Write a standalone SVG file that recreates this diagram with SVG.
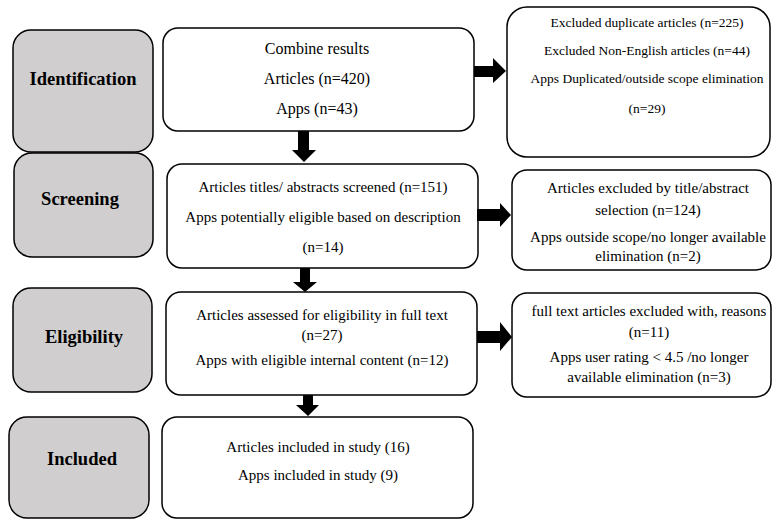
<svg xmlns="http://www.w3.org/2000/svg" width="774" height="520" viewBox="0 0 774 520">
<style>
.stage{fill:#d0cece;stroke:#000;stroke-width:1.5}
.box{fill:#fff;stroke:#000;stroke-width:1.5}
.lbl{font-family:"Liberation Serif","Times New Roman",serif;font-weight:bold;font-size:18.5px;text-anchor:middle;fill:#000}
.t{font-family:"Liberation Serif","Times New Roman",serif;font-size:15px;text-anchor:middle;fill:#000}
.t16{font-size:16px}
.t13{font-size:13.5px}
.arr{fill:#000}
</style>
<rect width="774" height="520" fill="#fff"/>
<g id="identification">
<rect class="stage" x="13" y="30" width="140" height="122" rx="18"/>
<text class="lbl" x="83" y="85">Identification</text>
</g>
<g id="screening">
<rect class="stage" x="14" y="153" width="139" height="104" rx="18"/>
<text class="lbl" x="80" y="205">Screening</text>
</g>
<g id="eligibility">
<rect class="stage" x="13" y="288" width="139" height="104" rx="18"/>
<text class="lbl" x="84" y="343">Eligibility</text>
</g>
<g id="included">
<rect class="stage" x="9" y="417" width="140" height="101" rx="18"/>
<text class="lbl" x="82" y="465">Included</text>
</g>
<g id="combine">
<rect class="box" x="163" y="28" width="311" height="103" rx="15"/>
<text class="t t16" x="317" y="54">Combine results</text>
<text class="t t16" x="317" y="84">Articles (n=420)</text>
<text class="t t16" x="317" y="114">Apps (n=43)</text>
</g>
<g id="screened">
<rect class="box" x="167" y="164" width="311" height="104" rx="15"/>
<text class="t" x="323" y="192">Articles titles/ abstracts screened (n=151)</text>
<text class="t" x="323" y="222">Apps potentially eligible based on description</text>
<text class="t" x="323" y="252">(n=14)</text>
</g>
<g id="assessed">
<rect class="box" x="166" y="292" width="311" height="103" rx="15"/>
<text class="t" x="322" y="320">Articles assessed for eligibility in full text</text>
<text class="t" x="322" y="340">(n=27)</text>
<text class="t" x="322" y="365">Apps with eligible internal content (n=12)</text>
</g>
<g id="study">
<rect class="box" x="162" y="417" width="311" height="101" rx="15"/>
<text class="t" x="318" y="452">Articles included in study (16)</text>
<text class="t" x="318" y="480">Apps included in study (9)</text>
</g>
<g id="excluded1">
<rect class="box" x="507" y="7" width="263" height="150" rx="20"/>
<text class="t t13" x="647" y="27">Excluded duplicate articles (n=225)</text>
<text class="t t13" x="647" y="55">Excluded Non-English articles (n=44)</text>
<text class="t t13" x="647" y="83">Apps Duplicated/outside scope elimination</text>
<text class="t t13" x="647" y="113">(n=29)</text>
</g>
<g id="excluded2">
<rect class="box" x="512" y="170" width="259" height="100" rx="15"/>
<text class="t" x="648" y="193">Articles excluded by title/abstract</text>
<text class="t" x="648" y="215">selection (n=124)</text>
<text class="t" x="648" y="242">Apps outside scope/no longer available</text>
<text class="t" x="648" y="261">elimination (n=2)</text>
</g>
<g id="excluded3">
<rect class="box" x="512" y="293" width="259" height="104" rx="15"/>
<text class="t" x="649" y="316">full text articles excluded with, reasons</text>
<text class="t" x="649" y="337">(n=11)</text>
<text class="t" x="649" y="362">Apps user rating &lt; 4.5 /no longer</text>
<text class="t" x="649" y="382">available elimination (n=3)</text>
</g>
<g id="connectors">
<polygon class="arr" points="474,66 493,66 493,58 506,71 493,83 493,77 474,77"/>
<polygon class="arr" points="477,209 500,209 500,203 511,215 500,227 500,221 477,221"/>
<polygon class="arr" points="477,331 500,331 500,322 512,337 500,351 500,343 477,343"/>
<polygon class="arr" points="298,131 309,131 309,150 316,150 304,162 292,150 298,150"/>
<polygon class="arr" points="300,268 310,268 310,282 317,282 305,292 293,282 300,282"/>
<polygon class="arr" points="303,395 313,395 313,405 319,405 308,416 296,405 303,405"/>
</g>
</svg>
